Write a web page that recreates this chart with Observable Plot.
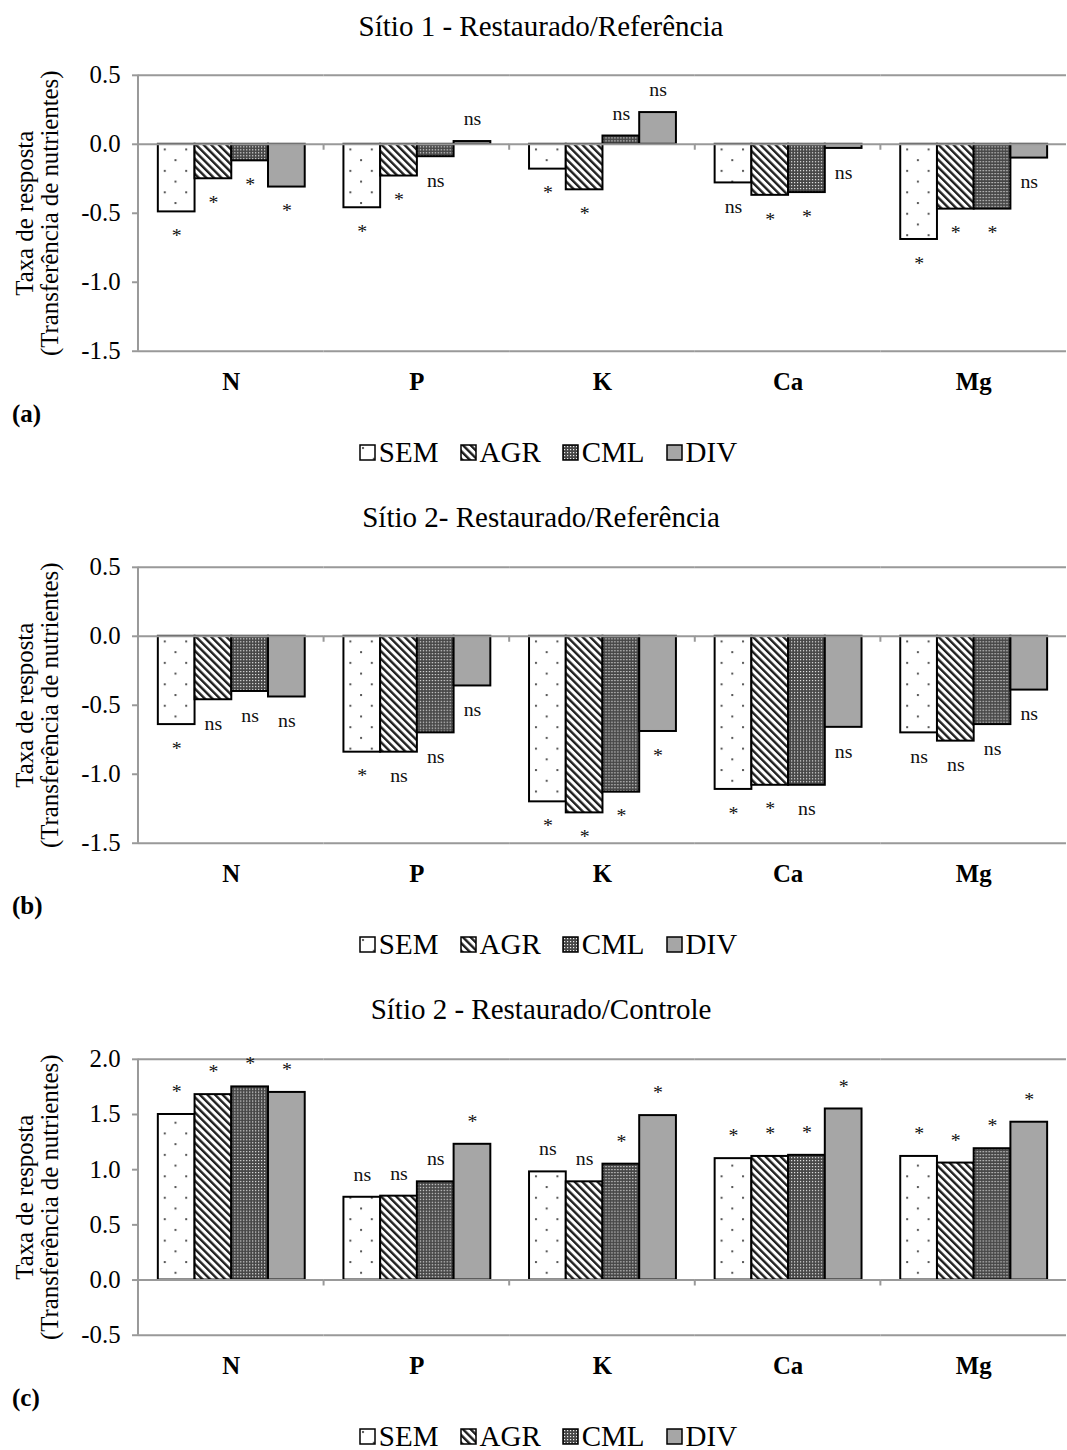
<!DOCTYPE html>
<html>
<head>
<meta charset="utf-8">
<script src="https://cdn.jsdelivr.net/npm/d3@7"></script>
<script src="https://cdn.jsdelivr.net/npm/@observablehq/plot@0.6"></script>
<style>
  html, body { margin: 0; padding: 0; background: #fff; overflow: hidden; }
  #page { position: relative; width: 1067px; height: 1450px; overflow: hidden;
          font-family: "Liberation Serif", "Times New Roman", serif; color: #000; }
  .title { position: absolute; left: 0; width: 1082px; text-align: center;
           font-size: 29px; line-height: 29px; white-space: nowrap; }
  .tag { position: absolute; left: 12px; font-size: 25px; line-height: 25px; font-weight: bold; }
  .legend-box { position: absolute; left: 0; width: 1097px; height: 33px;
                display: flex; justify-content: center; align-items: center; }
  .chart { position: absolute; left: 0; }
  .lg-swatches { font-family: "Liberation Serif", "Times New Roman", serif !important;
                 font-size: 29px !important; color: #000; margin: 0 !important; }
  .lg-swatch { margin-right: 22px !important; }
  .lg-swatch:last-child { margin-right: 0 !important; }
  .lg-swatch > svg { margin-right: 4px !important; }
  .lg-swatch rect { stroke: #000; stroke-width: 1.5px; }
</style>
</head>
<body>
<svg width="0" height="0" style="position:absolute">
  <defs>
    <pattern id="fill-sem" patternUnits="userSpaceOnUse" width="21.6" height="21.6">
      <rect width="21.6" height="21.6" fill="#fff"/>
      <rect x="2" y="2" width="2" height="2" fill="#555"/>
      <rect x="12.8" y="12.8" width="2" height="2" fill="#555"/>
    </pattern>
    <pattern id="fill-agr" patternUnits="userSpaceOnUse" width="5.4" height="5.4" patternTransform="rotate(-45)">
      <rect width="5.4" height="5.4" fill="#fff"/>
      <rect width="2.4" height="5.4" fill="#1e1e1e"/>
    </pattern>
    <pattern id="fill-cml" patternUnits="userSpaceOnUse" width="3" height="3">
      <rect width="3" height="3" fill="#464646"/>
      <rect x="1" y="1" width="1.2" height="1.2" fill="#ececec"/>
    </pattern>
  </defs>
</svg>
<div id="page"></div>
<script>
// Nutrients on the category axis and the four treatments within each group
const nutrients = ["N", "P", "K", "Ca", "Mg"];
const treatments = ["SEM", "AGR", "CML", "DIV"];
const treatmentFills = ["url(#fill-sem)", "url(#fill-agr)", "url(#fill-cml)", "#a6a6a6"];

// (a) Sítio 1 - Restaurado/Referência  (values in nutrient order N, P, K, Ca, Mg)
const s1RefSEM = [-0.49, -0.46, -0.18, -0.28, -0.69];
const s1RefAGR = [-0.25, -0.23, -0.33, -0.37, -0.47];
const s1RefCML = [-0.12, -0.09, 0.06, -0.35, -0.47];
const s1RefDIV = [-0.31, 0.02, 0.23, -0.03, -0.10];
const s1RefSigSEM = ["*", "*", "*", "ns", "*"];
const s1RefSigAGR = ["*", "*", "*", "*", "*"];
const s1RefSigCML = ["*", "ns", "ns", "*", "*"];
const s1RefSigDIV = ["*", "ns", "ns", "ns", "ns"];

// (b) Sítio 2 - Restaurado/Referência
const s2RefSEM = [-0.64, -0.84, -1.20, -1.11, -0.70];
const s2RefAGR = [-0.46, -0.84, -1.28, -1.08, -0.76];
const s2RefCML = [-0.40, -0.70, -1.13, -1.08, -0.64];
const s2RefDIV = [-0.44, -0.36, -0.69, -0.66, -0.39];
const s2RefSigSEM = ["*", "*", "*", "*", "ns"];
const s2RefSigAGR = ["ns", "ns", "*", "*", "ns"];
const s2RefSigCML = ["ns", "ns", "*", "ns", "ns"];
const s2RefSigDIV = ["ns", "ns", "*", "ns", "ns"];

// (c) Sítio 2 - Restaurado/Controle
const s2CtlSEM = [1.50, 0.75, 0.98, 1.10, 1.12];
const s2CtlAGR = [1.68, 0.76, 0.89, 1.12, 1.06];
const s2CtlCML = [1.75, 0.89, 1.05, 1.13, 1.19];
const s2CtlDIV = [1.70, 1.23, 1.49, 1.55, 1.43];
const s2CtlSigSEM = ["*", "ns", "ns", "*", "*"];
const s2CtlSigAGR = ["*", "ns", "ns", "*", "*"];
const s2CtlSigCML = ["*", "ns", "*", "*", "*"];
const s2CtlSigDIV = ["*", "*", "*", "*", "*"];

const yTitle = "Taxa de resposta\n(Transferência de nutrientes)";
const legendTitles = treatments;

function rows(series, sigs) {
  return treatments.flatMap((t, j) =>
    nutrients.map((n, i) => ({nutrient: n, treatment: t, value: series[j][i], sig: sigs[j][i]})));
}

// Left axis line plus the small tick marks between nutrient groups on the zero line
class GroupTicks extends Plot.Mark {
  constructor() { super([null], {}, {facet: "super"}, {}); }
  render(index, scales, values, dims) {
    const ns = "http://www.w3.org/2000/svg";
    const {fx, y} = scales;
    const g = document.createElementNS(ns, "g");
    const path = document.createElementNS(ns, "path");
    const left = dims.marginLeft;
    let d = `M${left},${dims.marginTop}V${dims.height - dims.marginBottom}`;
    if (fx) for (const n of fx.domain().slice(1)) d += `M${fx(n)},${y(0)}v6`;
    path.setAttribute("d", d);
    path.setAttribute("stroke", "#999");
    path.setAttribute("stroke-width", 2);
    path.setAttribute("fill", "none");
    g.appendChild(path);
    return g;
  }
}

function chart(data, domain, ticks) {
  return Plot.plot({
    width: 1075,
    height: 353,
    marginLeft: 138,
    marginRight: 0,
    marginTop: 25,
    marginBottom: 50,
    style: {fontFamily: "'Liberation Serif', 'Times New Roman', serif", fontSize: "25px",
            color: "#000", background: "transparent", overflow: "visible"},
    fx: {domain: nutrients, padding: 0, label: null},
    x: {domain: treatments, paddingInner: 0, paddingOuter: 0.48, axis: null},
    y: {domain},
    color: {domain: treatments, range: treatmentFills},
    marks: [
      Plot.barY(data, {fx: "nutrient", x: "treatment", y: "value", fill: "treatment",
                       stroke: "#000", strokeWidth: 2, inset: 0}),
      Plot.ruleY([domain[0], domain[1], 0], {stroke: "#999", strokeWidth: 2}),
      new GroupTicks(),
      Plot.text(data.filter(d => d.value < 0), {fx: "nutrient", x: "treatment", y: "value",
                text: "sig", dy: 24, fontSize: 20, fill: "#111"}),
      Plot.text(data.filter(d => d.value >= 0), {fx: "nutrient", x: "treatment", y: "value",
                text: "sig", dy: -23, fontSize: 20, fill: "#111"}),
      Plot.axisY({ticks, tickFormat: d => d.toFixed(1), tickSize: 6, tickPadding: 12,
                  stroke: "#999", strokeWidth: 2, fill: "#000", fontSize: 25,
                  label: yTitle, labelAnchor: "center", labelOffset: 124, labelArrow: "none"}),
      Plot.axisFx({anchor: "bottom", tickSize: 0, tickPadding: 21, fontSize: 25,
                   fontWeight: "bold", fill: "#000", label: null})
    ]
  });
}

const panels = [
  {title: "Sítio 1 - Restaurado/Referência", tag: "(a)", top: 0,
   domain: [-1.5, 0.5], ticks: [-1.5, -1, -0.5, 0, 0.5],
   data: rows([s1RefSEM, s1RefAGR, s1RefCML, s1RefDIV], [s1RefSigSEM, s1RefSigAGR, s1RefSigCML, s1RefSigDIV])},
  {title: "Sítio 2- Restaurado/Referência", tag: "(b)", top: 491.5,
   domain: [-1.5, 0.5], ticks: [-1.5, -1, -0.5, 0, 0.5],
   data: rows([s2RefSEM, s2RefAGR, s2RefCML, s2RefDIV], [s2RefSigSEM, s2RefSigAGR, s2RefSigCML, s2RefSigDIV])},
  {title: "Sítio 2 - Restaurado/Controle", tag: "(c)", top: 983.5,
   domain: [-0.5, 2.0], ticks: [-0.5, 0, 0.5, 1, 1.5, 2],
   data: rows([s2CtlSEM, s2CtlAGR, s2CtlCML, s2CtlDIV], [s2CtlSigSEM, s2CtlSigAGR, s2CtlSigCML, s2CtlSigDIV])}
];

const page = document.getElementById("page");
for (const p of panels) {
  const title = document.createElement("div");
  title.className = "title";
  title.style.top = (p.top + 11.7) + "px";
  title.textContent = p.title;
  page.appendChild(title);

  const svg = chart(p.data, p.domain, p.ticks);
  svg.classList.add("chart");
  svg.style.position = "absolute";
  svg.style.top = (p.top + 50) + "px";
  svg.style.left = "0px";
  page.appendChild(svg);

  const tag = document.createElement("div");
  tag.className = "tag";
  tag.style.top = (p.top + 401) + "px";
  tag.textContent = p.tag;
  page.appendChild(tag);

  const box = document.createElement("div");
  box.className = "legend-box";
  box.style.top = (p.top + 436) + "px";
  box.appendChild(Plot.legend({color: {type: "ordinal", domain: legendTitles, range: treatmentFills},
                               className: "lg", swatchSize: 15}));
  page.appendChild(box);
}
</script>
</body>
</html>
